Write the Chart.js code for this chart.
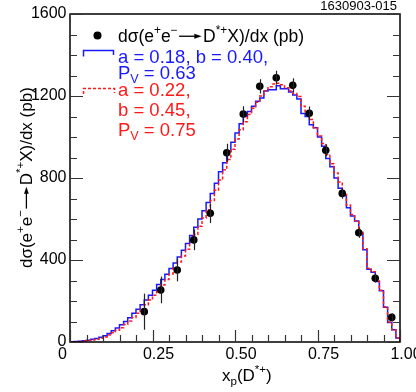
<!DOCTYPE html>
<html>
<head>
<meta charset="utf-8">
<script src="https://cdn.jsdelivr.net/npm/chart.js@4.4.1/dist/chart.umd.min.js"></script>
<style>
  html, body { margin: 0; padding: 0; background: #fff; }
</style>
</head>
<body>
<canvas id="grafico" width="416" height="392"></canvas>
<script>
// datos
const binWidth = 0.0125;

// histograma azul: a = 0.18, b = 0.40, Pv = 0.63
const blueFit = [
  1, 2, 4, 6, 9, 13, 17, 23, 31, 42,
  55, 68, 84, 100, 118, 140, 160, 182, 205, 228,
  252, 280, 305, 330, 358, 385, 415, 448, 480, 520,
  560, 600, 640, 680, 725, 775, 830, 875, 930, 975,
  1020, 1065, 1100, 1125, 1150, 1175, 1190, 1225, 1230, 1230,
  1250, 1235, 1235, 1220, 1205, 1185, 1115, 1100, 1060, 1045,
  1000, 955, 895, 855, 800, 750, 715, 655, 615, 590,
  530, 450, 355, 340, 295, 250, 170, 95, 60, 20
];

// histograma rojo: a = 0.22, b = 0.45, Pv = 0.75
const redFit = [
  0.5, 1.5, 3, 5, 7, 10, 13, 18, 25, 34,
  45, 57, 70, 85, 102, 120, 140, 160, 182, 205,
  228, 252, 278, 305, 332, 360, 390, 420, 452, 488,
  525, 565, 605, 645, 690, 740, 790, 840, 890, 940,
  990, 1035, 1075, 1110, 1140, 1170, 1200, 1225, 1245, 1258,
  1262, 1255, 1240, 1225, 1212, 1198, 1150, 1118, 1085, 1045,
  1005, 968, 915, 870, 825, 780, 720, 668, 622, 592,
  535, 455, 360, 343, 298, 252, 172, 98, 60, 20
];

// puntos de datos con error
const pointX = [0.225, 0.275, 0.325, 0.375, 0.425, 0.475, 0.525, 0.575,
                0.625, 0.675, 0.725, 0.775, 0.825, 0.875, 0.925, 0.975];
const pointY = [148, 254, 351, 498, 628, 923, 1112, 1247,
                1289, 1252, 1116, 935, 725, 533, 311, 120];
const pointErr = [88, 65, 55, 50, 48, 44, 38, 35,
                  34, 34, 33, 29, 26, 25, 21, 20];

const xTicks = [0, 0.25, 0.5, 0.75, 1.0];
const xTickLabels = ['0', '0.25', '0.50', '0.75', '1.00'];
const yTicks = [0, 400, 800, 1200, 1600];
const yTickLabels = ['0', '400', '800', '1200', '1600'];
const xMinorStep = 0.05;
const yMinorStep = 100;

const FONT = '"Liberation Sans", Arial, Helvetica, sans-serif';
const BLUE = 'rgb(25,25,255)';
const RED = 'rgb(255,25,25)';

// pasa un histograma a puntos escalonados (borde izquierdo de cada bin)
function toSteps(vals) {
  const pts = vals.map((v, i) => ({ x: i * binWidth, y: v }));
  pts.push({ x: vals.length * binWidth, y: 0 });
  return pts;
}

// texto con super/subindices y flecha
function drawRich(ctx, parts, x, y, size, color) {
  ctx.save();
  ctx.fillStyle = color;
  ctx.strokeStyle = color;
  ctx.textAlign = 'left';
  ctx.textBaseline = 'alphabetic';
  let cx = x;
  parts.forEach(([txt, kind]) => {
    if (kind === 'arrow') {
      const w = size * 1.45, ay = y - size * 0.3;
      ctx.lineWidth = size * 0.075;
      ctx.beginPath();
      ctx.moveTo(cx + size * 0.08, ay);
      ctx.lineTo(cx + w - size * 0.4, ay);
      ctx.stroke();
      ctx.beginPath();
      ctx.moveTo(cx + w - size * 0.08, ay);
      ctx.lineTo(cx + w - size * 0.5, ay - size * 0.14);
      ctx.lineTo(cx + w - size * 0.5, ay + size * 0.14);
      ctx.closePath();
      ctx.fill();
      cx += w;
      return;
    }
    const s = kind ? size * 0.68 : size;
    const dy = kind === 'sup' ? -size * 0.42 : (kind === 'sub' ? size * 0.24 : 0);
    ctx.font = s + 'px ' + FONT;
    ctx.fillText(txt, cx, y + dy);
    cx += ctx.measureText(txt).width;
  });
  ctx.restore();
  return cx - x;
}

const sigmaText = [['d\u03c3(e', ''], ['+', 'sup'], ['e', ''], ['\u2212', 'sup'], ['', 'arrow'],
                   ['D', ''], ['*+', 'sup'], ['X)/dx (pb)', '']];

const decoracion = {
  id: 'decoracion',
  afterDatasetsDraw(chart) {
    const ctx = chart.ctx;
    const xs = chart.scales.x, ys = chart.scales.y;

    // barras de error
    ctx.save();
    ctx.strokeStyle = '#222';
    ctx.lineWidth = 1.2;
    pointX.forEach((x, i) => {
      const px = Math.round(xs.getPixelForValue(x)) + 0.5;
      ctx.beginPath();
      ctx.moveTo(px, ys.getPixelForValue(pointY[i] + pointErr[i]));
      ctx.lineTo(px, ys.getPixelForValue(pointY[i] - pointErr[i]));
      ctx.stroke();
    });
    ctx.restore();
  },
  afterDraw(chart) {
    const ctx = chart.ctx;
    const xs = chart.scales.x, ys = chart.scales.y;
    const a = chart.chartArea;

    ctx.save();
    // marco
    ctx.strokeStyle = '#000';
    ctx.lineWidth = 1.5;
    ctx.strokeRect(a.left, a.top, a.right - a.left, a.bottom - a.top);

    // marcas hacia adentro
    ctx.strokeStyle = '#333';
    ctx.lineWidth = 1.2;
    for (let k = 0; k * xMinorStep <= 1.0001; k++) {
      const v = k * xMinorStep;
      const len = (k % 5 === 0) ? 12 : 7;
      const px = Math.round(xs.getPixelForValue(v)) + 0.5;
      ctx.beginPath();
      ctx.moveTo(px, a.bottom);
      ctx.lineTo(px, a.bottom - len);
      ctx.stroke();
    }
    for (let k = 0; k * yMinorStep <= 1600; k++) {
      const v = k * yMinorStep;
      const len = (k % 4 === 0) ? 13 : 7;
      const py = Math.round(ys.getPixelForValue(v)) + 0.5;
      ctx.beginPath();
      ctx.moveTo(a.left, py);
      ctx.lineTo(a.left + len, py);
      ctx.moveTo(a.right, py);
      ctx.lineTo(a.right - len, py);
      ctx.stroke();
    }

    // etiquetas del eje x
    ctx.fillStyle = '#000';
    ctx.font = '16px ' + FONT;
    ctx.textBaseline = 'alphabetic';
    ctx.textAlign = 'center';
    xTicks.forEach((v, i) => {
      const px = xs.getPixelForValue(v);
      ctx.fillText(xTickLabels[i], v === 0 ? px - 7.5 : px + 6, 359);
    });

    // numero de figura
    ctx.font = '13px ' + FONT;
    ctx.textAlign = 'right';
    ctx.fillText('1630903-015', 397, 10);
    ctx.restore();

    // titulo eje x
    drawRich(ctx, [['x', ''], ['p', 'sub'], ['(D', ''], ['*+', 'sup'], [')', '']], 222, 380.5, 17, '#000');

    // titulo eje y (rotado)
    ctx.save();
    ctx.translate(31.5, 268);
    ctx.rotate(-Math.PI / 2);
    drawRich(ctx, sigmaText, 0, 0, 17, '#000');
    ctx.restore();

    // leyenda
    ctx.save();
    ctx.fillStyle = '#000';
    ctx.beginPath();
    ctx.arc(97.5, 35.5, 4, 0, Math.PI * 2);
    ctx.fill();

    ctx.lineWidth = 1.5;
    ctx.strokeStyle = BLUE;
    ctx.beginPath();
    ctx.moveTo(83.5, 56.5);
    ctx.lineTo(83.5, 50.5);
    ctx.lineTo(113.5, 50.5);
    ctx.lineTo(113.5, 55);
    ctx.stroke();

    ctx.strokeStyle = RED;
    ctx.setLineDash([3, 2]);
    ctx.beginPath();
    ctx.moveTo(83.5, 94);
    ctx.lineTo(83.5, 88.5);
    ctx.lineTo(114.5, 88.5);
    ctx.lineTo(114.5, 93);
    ctx.stroke();
    ctx.restore();

    drawRich(ctx, sigmaText, 118, 41.5, 17.5, '#000');
    drawRich(ctx, [['a = 0.18, b = 0.40,', '']], 118, 62.5, 18.5, BLUE);
    drawRich(ctx, [['P', ''], ['V', 'sub'], [' = 0.63', '']], 118, 78.5, 18.5, BLUE);
    drawRich(ctx, [['a = 0.22,', '']], 118, 95.5, 18.5, RED);
    drawRich(ctx, [['b = 0.45,', '']], 118, 116, 18.5, RED);
    drawRich(ctx, [['P', ''], ['V', 'sub'], [' = 0.75', '']], 118, 136, 18.5, RED);
  }
};

const ctx = document.getElementById('grafico').getContext('2d');
const grafico = new Chart(ctx, {
  type: 'line',
  data: {
    datasets: [
      {
        type: 'scatter',
        label: 'datos',
        data: pointX.map((x, i) => ({ x: x, y: pointY[i] })),
        pointRadius: 3.8,
        pointBackgroundColor: '#000',
        pointBorderColor: '#000',
        pointBorderWidth: 0,
        showLine: false
      },
      {
        label: 'a = 0.22, b = 0.45, Pv = 0.75',
        data: toSteps(redFit),
        stepped: 'before',
        borderColor: RED,
        borderWidth: 1.5,
        borderDash: [3, 2],
        pointRadius: 0,
        fill: false
      },
      {
        label: 'a = 0.18, b = 0.40, Pv = 0.63',
        data: toSteps(blueFit),
        stepped: 'before',
        borderColor: BLUE,
        borderWidth: 1.5,
        pointRadius: 0,
        fill: false
      }
    ]
  },
  options: {
    responsive: false,
    animation: false,
    devicePixelRatio: 1,
    events: [],
    layout: { padding: { top: 14, right: 16, left: 0, bottom: 0 } },
    plugins: {
      legend: { display: false },
      tooltip: { enabled: false }
    },
    scales: {
      x: {
        type: 'linear',
        min: 0,
        max: 1,
        grid: { display: false, drawTicks: false },
        border: { display: false },
        ticks: { display: false },
        afterFit: s => { s.height = 50; }
      },
      y: {
        type: 'linear',
        min: 0,
        max: 1600,
        grid: { display: false, drawTicks: false },
        border: { display: false },
        afterBuildTicks: s => { s.ticks = yTicks.map(v => ({ value: v })); },
        ticks: {
          color: '#000',
          padding: 3.5,
          font: { family: FONT, size: 16 },
          callback: (v, i) => yTickLabels[i]
        },
        afterFit: s => { s.width = 70; }
      }
    }
  },
  plugins: [decoracion]
});
</script>
</body>
</html>
